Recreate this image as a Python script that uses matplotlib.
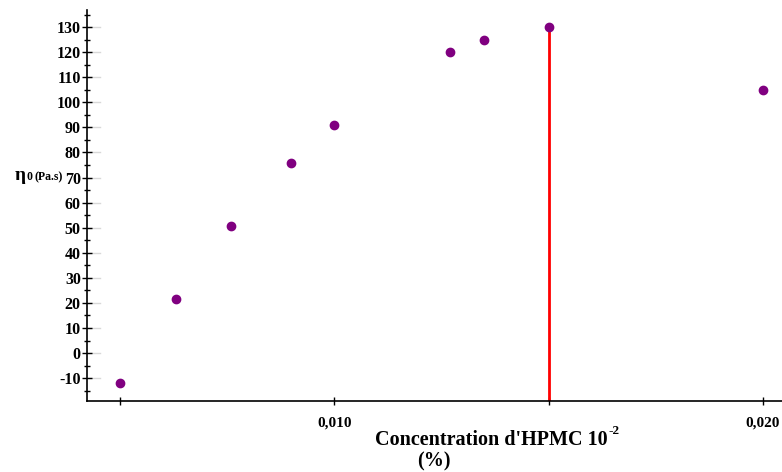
import matplotlib
matplotlib.use("Agg")
import matplotlib.pyplot as plt
from matplotlib.ticker import MultipleLocator

conc = [0.005, 0.0063, 0.0076, 0.009, 0.010, 0.0127, 0.0135, 0.015, 0.020]
eta0 = [-12, 21.5, 50.6, 75.7, 91, 120, 125, 130, 105]
xticks = [0.005, 0.010, 0.015, 0.020]
xticklabels = ["", "0,010", "", "0,020"]
yticks = list(range(-10, 131, 10))
red_x = 0.015
red_top = 130

plt.rcParams['font.family'] = ['Liberation Serif', 'DejaVu Serif']
plt.rcParams['font.weight'] = 'bold'

fig = plt.figure(figsize=(7.82, 4.72), dpi=100)
ax = fig.add_axes([0.1113, 0.1504, 0.89, 0.8284])
ax.set_xlim(0.00423, 0.02047)
ax.set_ylim(-19.1, 136.8)

ax.vlines(red_x, -19.1, red_top, colors='#ff0000', linewidth=2, zorder=2)
ax.plot(conc, eta0, linestyle='none', marker='o', markersize=6,
        color='#800080', zorder=3)

for s in ['top', 'right']:
    ax.spines[s].set_visible(False)
ax.spines['left'].set_linewidth(1.2)
ax.spines['bottom'].set_linewidth(1.2)

ax.set_yticks(yticks)
ax.set_yticklabels([str(v) for v in yticks], fontsize=11.5, fontweight='bold')
ax.yaxis.set_minor_locator(MultipleLocator(5))
ax.tick_params(axis='y', which='major', direction='inout', length=7, width=1, pad=1)
ax.tick_params(axis='y', which='minor', direction='inout', length=5, width=1)
# faint grey extensions of the major y ticks
for v in yticks:
    ax.plot([0.00423, 0.00453], [v, v], color='#d8d8d8', linewidth=1, zorder=1,
            clip_on=False)

ax.set_xticks(xticks)
ax.set_xticklabels(xticklabels, fontsize=11, fontweight='bold')
ax.tick_params(axis='x', which='major', direction='inout', length=6, width=1, pad=8)

main = fig.text(0.4795, 0.068, "Concentration d'HPMC 10", ha='left', va='center',
                fontsize=14.5, fontweight='bold')
fig.canvas.draw()
bb = main.get_window_extent()
W, H = fig.get_size_inches() * fig.dpi
fig.text(bb.x1 / W + 0.001, 0.086, "-2", ha='left', va='center',
         fontsize=9.5, fontweight='bold')
fig.text(0.555, 0.023, "(%)", ha='center', va='center', fontsize=14.5, fontweight='bold')

fig.text(0.019, 0.628, "η", ha='left', va='center', fontsize=14, fontweight='bold')
fig.text(0.0335, 0.625, "0", ha='left', va='center', fontsize=8.5, fontweight='bold')
fig.text(0.0445, 0.625, "(Pa.s)", ha='left', va='center', fontsize=8.5, fontweight='bold')

fig.savefig("out.png", dpi=100)
